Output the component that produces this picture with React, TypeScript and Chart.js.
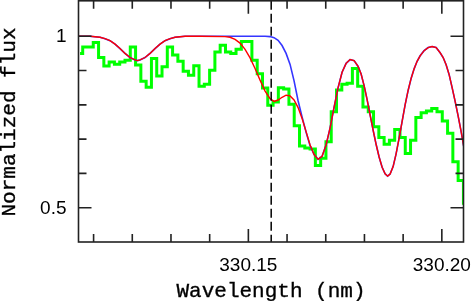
import React, { useEffect, useRef } from "react";
import { Chart, registerables } from "chart.js";

Chart.register(...registerables);

// ---- Observed spectrum (histogram, bin centres in nm) ----
const obsWavelength = [
  330.1065, 330.10787, 330.10923, 330.1106, 330.11197, 330.11333, 330.1147, 330.11607, 330.11743, 330.1188,
  330.12017, 330.12153, 330.1229, 330.12427, 330.12563, 330.127, 330.12837, 330.12973, 330.1311, 330.13247,
  330.13383, 330.1352, 330.13657, 330.13793, 330.1393, 330.14067, 330.14203, 330.1434, 330.14477, 330.14613,
  330.1475, 330.14887, 330.15023, 330.1516, 330.15297, 330.15433, 330.1557, 330.15707, 330.15843, 330.1598,
  330.16117, 330.16253, 330.1639, 330.16527, 330.16663, 330.168, 330.16937, 330.17073, 330.1721, 330.17347,
  330.17483, 330.1762, 330.17757, 330.17893, 330.1803, 330.18167, 330.18303, 330.1844, 330.18577, 330.18713,
  330.1885, 330.18987, 330.19123, 330.1926, 330.19397, 330.19533, 330.1967, 330.19807, 330.19943, 330.2008,
  330.20217, 330.20353, 330.2049, 330.20627,
];
const obsFlux = [
  0.95, 0.969, 0.969, 0.982, 0.938, 0.913, 0.925, 0.918, 0.925, 0.93,
  0.969, 0.916, 0.869, 0.851, 0.935, 0.884, 0.911, 0.969, 0.945, 0.927,
  0.898, 0.886, 0.914, 0.854, 0.86, 0.901, 0.954, 0.974, 0.954, 0.95,
  0.962, 0.985, 0.985, 0.93, 0.891, 0.849, 0.799, 0.808, 0.85, 0.846,
  0.802, 0.739, 0.68, 0.674, 0.671, 0.623, 0.644, 0.692, 0.78, 0.843,
  0.86, 0.863, 0.906, 0.854, 0.794, 0.78, 0.736, 0.705, 0.685, 0.697,
  0.728, 0.705, 0.658, 0.697, 0.763, 0.777, 0.782, 0.789, 0.78, 0.753,
  0.717, 0.634, 0.579, 0.513,
];

// ---- Synthetic spectra (model grid in nm) ----
const modelWavelength = [
  330.1061, 330.10907, 330.11166, 330.11295, 330.11425, 330.11554, 330.11683, 330.11812, 330.11942, 330.12071,
  330.12135, 330.122, 330.12329, 330.12459, 330.12588, 330.12717, 330.12846, 330.12976, 330.13105, 330.13364,
  330.13751, 330.14398, 330.14527, 330.14656, 330.14785, 330.14915, 330.15044, 330.15173, 330.15302, 330.15432,
  330.15561, 330.15664, 330.15768, 330.15871, 330.15975, 330.16078, 330.16181, 330.16285, 330.16388, 330.16492,
  330.16595, 330.16699, 330.16802, 330.16905, 330.17009, 330.17112, 330.17216, 330.17319, 330.17422, 330.17526,
  330.17629, 330.17733, 330.17836, 330.17914, 330.17991, 330.18069, 330.18146, 330.18224, 330.18301, 330.18379,
  330.18457, 330.18534, 330.18599, 330.18663, 330.18741, 330.18818, 330.18896, 330.18974, 330.19051, 330.19129,
  330.19206, 330.19284, 330.19361, 330.19439, 330.19542, 330.19646, 330.19749, 330.19853, 330.19956, 330.20034,
  330.20111, 330.20189, 330.20266, 330.20344, 330.20421, 330.20499, 330.20576, 330.20654,
];
const fitFlux = [
  1.0, 1.0, 0.997, 0.993, 0.987, 0.977, 0.964, 0.95, 0.938, 0.931,
  0.929, 0.931, 0.938, 0.95, 0.964, 0.977, 0.987, 0.993, 0.997, 1.0,
  1.0, 0.999, 0.997, 0.991, 0.98, 0.962, 0.937, 0.906, 0.872, 0.84,
  0.818, 0.81, 0.814, 0.822, 0.828, 0.826, 0.814, 0.792, 0.76, 0.722,
  0.683, 0.655, 0.641, 0.65, 0.683, 0.733, 0.793, 0.85, 0.895, 0.921,
  0.932, 0.929, 0.912, 0.89, 0.856, 0.815, 0.771, 0.726, 0.685, 0.648,
  0.618, 0.599, 0.592, 0.598, 0.62, 0.657, 0.703, 0.752, 0.8, 0.842,
  0.877, 0.905, 0.927, 0.943, 0.958, 0.967, 0.97, 0.967, 0.952, 0.938,
  0.917, 0.888, 0.85, 0.81, 0.768, 0.722, 0.672, 0.62,
];
const noLineFlux = [
  1.0, 1.0, 0.997, 0.993, 0.987, 0.977, 0.964, 0.95, 0.938, 0.931,
  0.929, 0.931, 0.938, 0.95, 0.964, 0.977, 0.987, 0.993, 0.997, 1.0,
  1.0, 1.0, 1.0, 1.0, 1.0, 1.0, 1.0, 1.0, 1.0, 1.0,
  0.999, 0.996, 0.988, 0.973, 0.95, 0.918, 0.87, 0.812, 0.765, 0.72,
  0.681, 0.655, 0.641, 0.65, 0.683, 0.733, 0.793, 0.85, 0.895, 0.921,
  0.932, 0.929, 0.912, 0.89, 0.856, 0.815, 0.771, 0.726, 0.685, 0.648,
  0.618, 0.599, 0.592, 0.598, 0.62, 0.657, 0.703, 0.752, 0.8, 0.842,
  0.877, 0.905, 0.927, 0.943, 0.958, 0.967, 0.97, 0.967, 0.952, 0.938,
  0.917, 0.888, 0.85, 0.81, 0.768, 0.722, 0.672, 0.62,
];

// ---- Axes ----
const xRange = [330.1061, 330.2056];
const yRange = [0.4, 1.1034];
const xMajorTicks = [330.15, 330.2];
const xMajorLabels = ["330.15", "330.20"];
const xMinorTicks = [330.11, 330.12, 330.13, 330.14, 330.16, 330.17, 330.18, 330.19];
const yMajorTicks = [0.5, 1];
const yMajorLabels = ["0.5", "1"];
const yMinorTicks = [0.6, 0.7, 0.8, 0.9];
const markerWavelength = [330.1559];
const xTitle = "Wavelength (nm)";
const yTitle = "Normalized flux";

const framePlugin = {
  id: "frame",
  afterDatasetsDraw(chart: any) {
    const { ctx, chartArea, scales } = chart;
    const { left, right, top, bottom } = chartArea;
    const xs = scales.x;
    const ys = scales.y;
    ctx.save();
    // dashed marker
    ctx.strokeStyle = "#000";
    ctx.lineWidth = 1.5;
    ctx.setLineDash([9, 4]);
    for (const w of markerWavelength) {
      const px = xs.getPixelForValue(w);
      ctx.beginPath();
      ctx.moveTo(px, top);
      ctx.lineTo(px, bottom);
      ctx.stroke();
    }
    ctx.setLineDash([]);
    // frame
    ctx.strokeStyle = "#222";
    ctx.lineWidth = 1.6;
    ctx.strokeRect(left, top, right - left, bottom - top);
    // ticks
    const majorLen = 13;
    const minorLen = 8;
    ctx.beginPath();
    const xt = (v: number, len: number) => {
      const px = xs.getPixelForValue(v);
      ctx.moveTo(px, bottom);
      ctx.lineTo(px, bottom - len);
      ctx.moveTo(px, top);
      ctx.lineTo(px, top + len);
    };
    const yt = (v: number, len: number) => {
      const py = ys.getPixelForValue(v);
      ctx.moveTo(left, py);
      ctx.lineTo(left + len, py);
      ctx.moveTo(right, py);
      ctx.lineTo(right - len, py);
    };
    xMajorTicks.forEach((v) => xt(v, majorLen));
    xMinorTicks.forEach((v) => xt(v, minorLen));
    yMajorTicks.forEach((v) => yt(v, majorLen));
    yMinorTicks.forEach((v) => yt(v, minorLen));
    ctx.stroke();
    // tick labels
    ctx.fillStyle = "#000";
    ctx.font = '19px "Liberation Sans", Arial, sans-serif';
    ctx.textAlign = "center";
    ctx.textBaseline = "alphabetic";
    xMajorTicks.forEach((v, i) => {
      ctx.fillText(xMajorLabels[i], xs.getPixelForValue(v), bottom + 29);
    });
    ctx.textAlign = "right";
    ctx.textBaseline = "middle";
    yMajorTicks.forEach((v, i) => {
      ctx.fillText(yMajorLabels[i], left - 12, ys.getPixelForValue(v) + 1);
    });
    // axis titles
    ctx.font = '21px "Liberation Mono", "Courier New", monospace';
    ctx.strokeStyle = "#000";
    ctx.lineWidth = 0.35;
    ctx.textAlign = "center";
    ctx.textBaseline = "alphabetic";
    const cx = (left + right) / 2;
    ctx.fillText(xTitle, cx, 297);
    ctx.strokeText(xTitle, cx, 297);
    ctx.save();
    ctx.translate(15, 122);
    ctx.rotate(-Math.PI / 2);
    ctx.fillText(yTitle, 0, 0);
    ctx.strokeText(yTitle, 0, 0);
    ctx.restore();
    ctx.restore();
  },
};

export default function App() {
  const ref = useRef<HTMLCanvasElement | null>(null);
  useEffect(() => {
    if (!ref.current) return;
    const chart = new Chart(ref.current, {
      type: "line",
      data: {
        datasets: [
          {
            label: "fit",
            data: modelWavelength.map((x, i) => ({ x, y: fitFlux[i] })),
            borderColor: "#ff0000",
            borderWidth: 1.4,
            pointRadius: 0,
            tension: 0,
            order: 1,
          },
          {
            label: "no line",
            data: modelWavelength.map((x, i) => ({ x, y: noLineFlux[i] })),
            borderColor: "#3535ff",
            borderWidth: 1.6,
            pointRadius: 0,
            tension: 0,
            order: 2,
          },
          {
            label: "observed",
            data: obsWavelength.map((x, i) => ({ x, y: obsFlux[i] })),
            borderColor: "rgb(0,255,0)",
            borderWidth: 3,
            pointRadius: 0,
            stepped: "middle",
            order: 3,
          },
        ],
      },
      options: {
        animation: false,
        responsive: false,
        devicePixelRatio: 1,
        layout: { padding: { left: 78.5, right: 11.5, top: 0.8, bottom: 59 } },
        plugins: { legend: { display: false }, tooltip: { enabled: false } },
        scales: {
          x: { type: "linear", min: xRange[0], max: xRange[1], display: false },
          y: { type: "linear", min: yRange[0], max: yRange[1], display: false },
        },
      },
      plugins: [framePlugin],
    });
    return () => chart.destroy();
  }, []);
  return (
    <div style={{ position: "fixed", left: 0, top: 0, width: 475, height: 301, background: "#fff" }}>
      <canvas ref={ref} width={475} height={301} style={{ display: "block" }} />
    </div>
  );
}
